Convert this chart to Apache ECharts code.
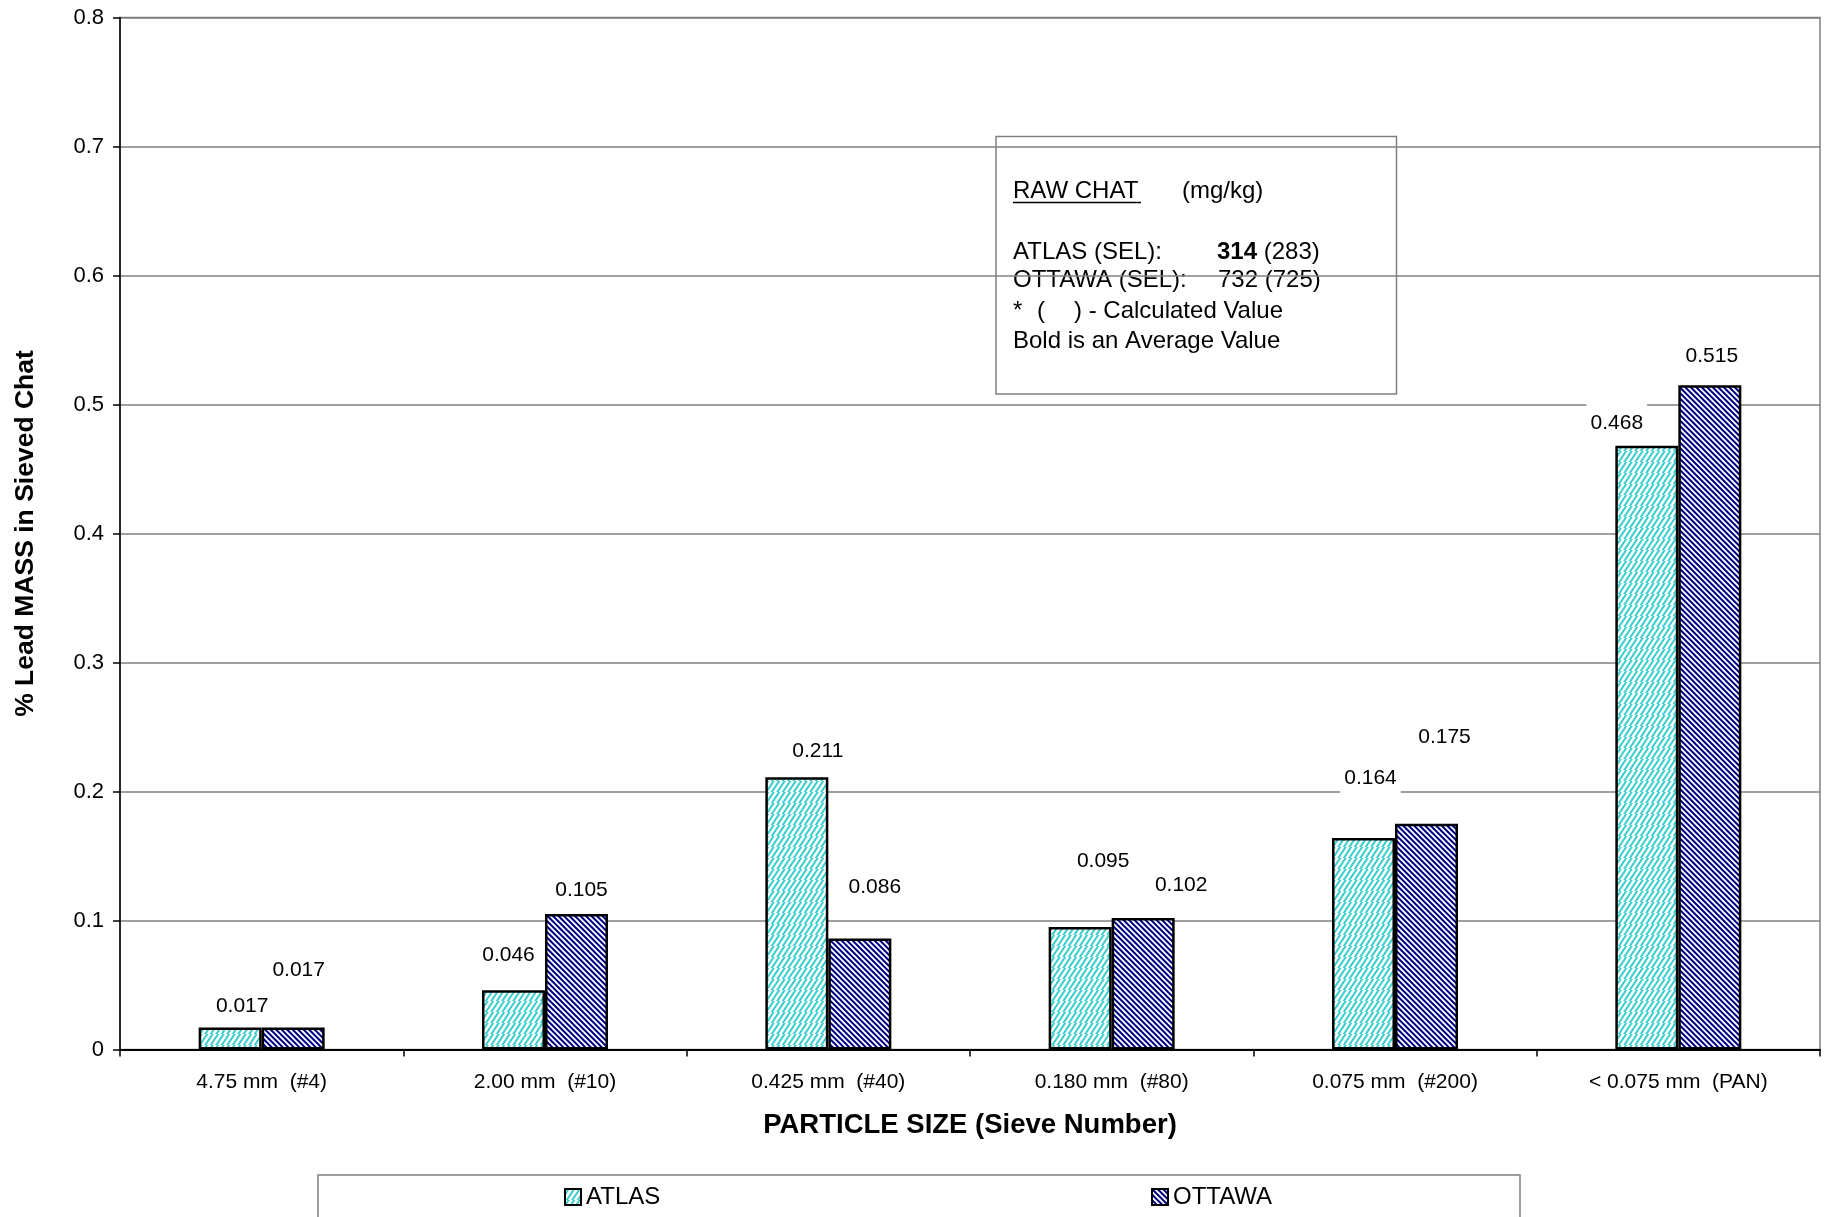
<!DOCTYPE html>
<html>
<head>
<meta charset="utf-8">
<script src="https://cdn.jsdelivr.net/npm/echarts@6/dist/echarts.min.js"></script>
<style>
  html, body { margin: 0; padding: 0; background: #fff; }
  #chart { width: 1826px; height: 1217px; }
</style>
</head>
<body>
<div id="chart"></div>
<script>
// Sieve fractions and lead mass share per source
const categories = ['4.75 mm  (#4)', '2.00 mm  (#10)', '0.425 mm  (#40)', '0.180 mm  (#80)', '0.075 mm  (#200)', '< 0.075 mm  (PAN)'];
const atlasValues = [0.017, 0.046, 0.211, 0.095, 0.164, 0.468];
const ottawaValues = [0.017, 0.105, 0.086, 0.102, 0.175, 0.515];
const seriesNames = ['ATLAS', 'OTTAWA'];
const yMin = 0, yMax = 0.8, yStep = 0.1;

// Raw chat note
const noteAtlasAvg = '314', noteAtlasCalc = '(283)';
const noteOttawa = '732 (725)';

// Hand-placed label nudges [dx, dy] in pixels
const atlasLabelShift = [[12, -3.5], [-5, -17.5], [21, -8.5], [23, -48.5], [7, -42.5], [-30, -5]];
const ottawaLabelShift = [[5.5, -39.5], [5, -6.5], [15, -33.5], [38, -15.5], [18, -69.5], [2, -11.5]];

const FONT = "'Liberation Sans', Arial, Helvetica, sans-serif";

// Diagonal hatch tile; tile holds two stripe periods so it wraps cleanly
function hatch(stripe, width, dir) {
  const s = 11;
  const c = document.createElement('canvas');
  c.width = s; c.height = s;
  const g = c.getContext('2d');
  g.fillStyle = '#ffffff';
  g.fillRect(0, 0, s, s);
  g.strokeStyle = stripe;
  g.lineWidth = width;
  g.beginPath();
  for (let k = -1; k <= 5; k++) {
    const cst = k * s / 2;
    if (dir === 'up') {          // x + y = cst
      g.moveTo(cst + s, -s); g.lineTo(cst - s, 2 * s);
    } else {                     // x - y = cst
      g.moveTo(cst - 2 * s, -s); g.lineTo(cst + s, 2 * s);
    }
  }
  g.stroke();
  return c;
}

const atlasFill = { image: hatch('#33cccc', 1.9, 'up'), repeat: 'repeat' };
const ottawaFill = { image: hatch('#000080', 2.0, 'down'), repeat: 'repeat' };

const labelBase = {
  show: true,
  position: 'top',
  distance: 0,
  color: '#000',
  fontFamily: FONT,
  fontSize: 21,
  lineHeight: 21,
  backgroundColor: '#fff',
  padding: [11, 4, 7, 4],
  formatter: p => p.value.toFixed(3)
};

function makeData(vals, shifts) {
  return vals.map((v, i) => ({ value: v, label: { offset: shifts[i] } }));
}

const chart = echarts.init(document.getElementById('chart'), null, { renderer: 'canvas' });

const noteText = (text, x, y, extra) => ({
  type: 'text',
  style: Object.assign({ text, x, y, fontFamily: FONT, fontSize: 24, fill: '#000', verticalAlign: 'middle' }, extra || {})
});

chart.setOption({
  animation: false,
  backgroundColor: '#fff',
  textStyle: { fontFamily: FONT },
  grid: {
    left: 120, right: 6, top: 17.5, bottom: 167.5,
    show: true, borderColor: '#808080', borderWidth: 1.5, backgroundColor: 'transparent'
  },
  legend: [
    {
      data: [seriesNames[0]], left: 559, top: 1180,
      icon: 'rect', itemWidth: 16, itemHeight: 16, itemGap: 5,
      textStyle: { fontFamily: FONT, fontSize: 24, color: '#000' }
    },
    {
      data: [seriesNames[1]], left: 1146, top: 1180,
      icon: 'rect', itemWidth: 16, itemHeight: 16, itemGap: 5,
      textStyle: { fontFamily: FONT, fontSize: 24, color: '#000' }
    }
  ],
  xAxis: {
    type: 'category',
    data: categories,
    boundaryGap: true,
    name: 'PARTICLE SIZE (Sieve Number)',
    nameLocation: 'middle',
    nameGap: 62,
    nameTextStyle: { fontFamily: FONT, fontSize: 27.5, fontWeight: 'bold', color: '#000' },
    axisLine: { lineStyle: { color: '#000', width: 2 } },
    axisTick: { show: true, length: 7, lineStyle: { color: '#000', width: 1.5 } },
    axisLabel: { fontFamily: FONT, fontSize: 21, color: '#000', margin: 22, interval: 0 },
    splitLine: { show: false }
  },
  yAxis: {
    type: 'value',
    min: yMin, max: yMax, interval: yStep,
    name: '% Lead MASS in Sieved Chat',
    nameLocation: 'middle',
    nameGap: 81,
    nameTextStyle: { fontFamily: FONT, fontSize: 26.5, fontWeight: 'bold', color: '#000' },
    axisLine: { show: true, lineStyle: { color: '#000', width: 1.5 } },
    axisTick: { show: true, length: 7, lineStyle: { color: '#000', width: 1.5 } },
    axisLabel: { fontFamily: FONT, fontSize: 22, color: '#000', margin: 16 },
    splitLine: { show: true, lineStyle: { color: '#808080', width: 1.5 } }
  },
  series: [
    {
      name: seriesNames[0],
      type: 'bar',
      barWidth: 63,
      barGap: '0%',
      data: makeData(atlasValues, atlasLabelShift),
      itemStyle: { color: atlasFill, borderColor: '#000', borderWidth: 2.5 },
      label: labelBase,
      z: 3
    },
    {
      name: seriesNames[1],
      type: 'bar',
      barWidth: 63,
      barGap: '0%',
      data: makeData(ottawaValues, ottawaLabelShift),
      itemStyle: { color: ottawaFill, borderColor: '#000', borderWidth: 2.5 },
      label: labelBase,
      z: 3
    }
  ],
  graphic: [
    // legend frame
    {
      type: 'rect', z: 1, silent: true,
      shape: { x: 318, y: 1175, width: 1202, height: 80 },
      style: { fill: 'none', stroke: '#808080', lineWidth: 1.5 }
    },
    // note box
    {
      type: 'group', z: 20, silent: true,
      children: [
        {
          type: 'rect',
          shape: { x: 996, y: 136.5, width: 400.5, height: 257.5 },
          style: { fill: '#fff', stroke: '#808080', lineWidth: 1.5 }
        },
        noteText('RAW CHAT', 1013, 191),
        { type: 'line', shape: { x1: 1013, y1: 202.5, x2: 1141, y2: 202.5 }, style: { stroke: '#000', lineWidth: 1.5 } },
        noteText('(mg/kg)', 1182, 191),
        noteText('ATLAS (SEL):', 1013, 252.5),
        noteText('{b|' + noteAtlasAvg + '} ' + noteAtlasCalc, 1217, 252.5, {
          rich: { b: { fontFamily: FONT, fontSize: 24, fontWeight: 'bold', fill: '#000' } }
        }),
        noteText('OTTAWA (SEL):', 1013, 280.5),
        noteText(noteOttawa, 1218, 280.5),
        noteText('*', 1013, 311),
        noteText('(', 1037, 311),
        noteText(') - Calculated Value', 1074, 311),
        noteText('Bold is an Average Value', 1013, 341.5)
      ]
    }
  ]
});
</script>
</body>
</html>
